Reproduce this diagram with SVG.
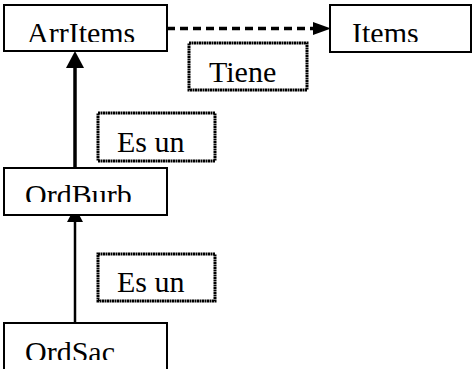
<svg xmlns="http://www.w3.org/2000/svg" width="473" height="369" viewBox="0 0 473 369">
  <style>
    .box { fill: #fff; stroke: #000; stroke-width: 2; }
    .note { fill: #fff; stroke: #000; stroke-width: 3; stroke-dasharray: 2 0.5; }
    .lbl { font-size: 30px; fill: #000; }
    .head { fill: #000; }
  </style>
  <defs>
    <clipPath id="clipArrItems"><rect x="5" y="6" width="162" height="36"/></clipPath>
    <clipPath id="clipItems"><rect x="331" y="6" width="140" height="36"/></clipPath>
    <clipPath id="clipOrdBurb"><rect x="5" y="169" width="162" height="33"/></clipPath>
    <clipPath id="clipOrdSac"><rect x="5" y="324" width="162" height="36"/></clipPath>
  </defs>

  <g id="connectors">
    <!-- ArrItems "Tiene" Items -->
    <line x1="167" y1="28.5" x2="314" y2="28.5" stroke="#000" stroke-width="3.5" stroke-dasharray="8 5"/>
    <polygon class="head" points="313,22 331,28.5 313,35"/>
    <!-- OrdBurb "Es un" ArrItems -->
    <line x1="75" y1="67" x2="75" y2="169" stroke="#000" stroke-width="3.5"/>
    <polygon class="head" points="75,51 66,68 84,68"/>
    <!-- OrdSac "Es un" OrdBurb -->
    <line x1="75" y1="221" x2="75" y2="323" stroke="#000" stroke-width="2.5"/>
    <polygon class="head" points="75,207 67,222 83,222"/>
  </g>

  <g id="arrItems">
    <rect class="box" x="4" y="5" width="163" height="46"/>
    <text class="lbl" font-family="Liberation Serif, DejaVu Serif, serif" x="27" y="43" clip-path="url(#clipArrItems)">ArrItems</text>
  </g>

  <g id="items">
    <rect class="box" x="330" y="5" width="141" height="47"/>
    <text class="lbl" font-family="Liberation Serif, DejaVu Serif, serif" x="352" y="43" clip-path="url(#clipItems)">Items</text>
  </g>

  <g id="tiene">
    <rect class="note" x="189" y="43" width="118" height="47"/>
    <text class="lbl" font-family="Liberation Serif, DejaVu Serif, serif" x="209" y="82">Tiene</text>
  </g>

  <g id="esUn1">
    <rect class="note" x="98" y="113" width="117" height="48"/>
    <text class="lbl" font-family="Liberation Serif, DejaVu Serif, serif" x="117" y="152">Es un</text>
  </g>

  <g id="ordBurb">
    <rect class="box" x="4" y="168" width="163" height="47"/>
    <text class="lbl" font-family="Liberation Serif, DejaVu Serif, serif" x="25" y="205" clip-path="url(#clipOrdBurb)">OrdBurb</text>
  </g>

  <g id="esUn2">
    <rect class="note" x="98" y="254" width="117" height="47"/>
    <text class="lbl" font-family="Liberation Serif, DejaVu Serif, serif" x="117" y="292">Es un</text>
  </g>

  <g id="ordSac">
    <path class="box" d="M4,371 V323 H167 V371"/>
    <text class="lbl" font-family="Liberation Serif, DejaVu Serif, serif" x="25" y="362" clip-path="url(#clipOrdSac)">OrdSac</text>
  </g>
</svg>
